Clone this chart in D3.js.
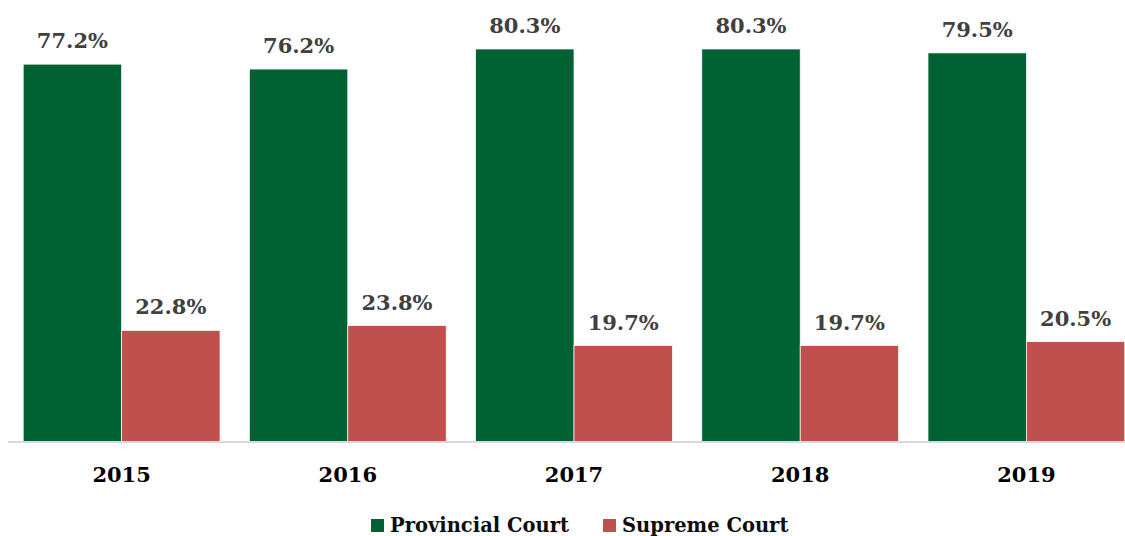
<!DOCTYPE html>
<html><head><meta charset="utf-8">
<script src="https://cdn.jsdelivr.net/npm/d3@7"></script>
<style>body{margin:0;background:#fff}svg{display:block}</style>
</head><body>
<svg id="c" width="1125" height="536"></svg>
<script>
const years = ["2015","2016","2017","2018","2019"];
const seriesNames = ["Provincial Court","Supreme Court"];
const provincial = [77.2,76.2,80.3,80.3,79.5];
const supreme = [22.8,23.8,19.7,19.7,20.5];
const colors = ["#006233","#c0504d"];

const svg = d3.select("#c");
const font = "'DejaVu Serif', serif";
const baseY = 442;
const x0 = d3.scaleBand().domain(years).range([8.5,1139.5]).paddingInner(0.13).paddingOuter(0.065);
const x1 = d3.scaleBand().domain(seriesNames).range([0,x0.bandwidth()]);
const y = d3.scaleLinear().domain([0,80.3]).range([baseY,49]);

const data = years.map((yr,i)=>({yr, vals:[provincial[i],supreme[i]]}));

const g = svg.selectAll("g.grp").data(data).join("g").attr("transform",d=>`translate(${x0(d.yr)},0)`);
g.selectAll("rect").data(d=>d.vals.map((v,j)=>({v,j}))).join("rect")
  .attr("x",d=>x1(seriesNames[d.j])).attr("width",x1.bandwidth())
  .attr("y",d=>y(d.v)).attr("height",d=>baseY-y(d.v))
  .attr("fill",d=>colors[d.j]).attr("stroke","#fff").attr("stroke-width",0.7);
g.selectAll("text").data(d=>d.vals.map((v,j)=>({v,j}))).join("text")
  .attr("x",d=>x1(seriesNames[d.j])+x1.bandwidth()/2).attr("y",d=>y(d.v)-16)
  .attr("text-anchor","middle").attr("font-family",font).attr("font-weight","bold")
  .attr("font-size",21).attr("fill","#404040").text(d=>d.v.toFixed(1)+"%");

// axis
const ax = svg.append("g").attr("transform",`translate(0,${baseY})`)
  .call(d3.axisBottom(x0).tickSize(0).tickPadding(0));
ax.select(".domain").attr("stroke","#d9d9d9").attr("stroke-width",2).attr("d","M8,0H1125");
ax.selectAll("text").attr("font-family",font).attr("font-weight","bold").attr("font-size",21)
  .attr("fill","#000").attr("dy",null).attr("y",40);

// legend
const leg = [{n:seriesNames[0],c:colors[0],x:371},{n:seriesNames[1],c:colors[1],x:603}];
const lg = svg.selectAll("g.leg").data(leg).join("g").attr("transform",d=>`translate(${d.x},519)`);
lg.append("rect").attr("width",13).attr("height",13).attr("fill",d=>d.c);
lg.append("text").attr("x",19).attr("y",13).attr("font-family",font).attr("font-weight","bold")
  .attr("font-size",19.5).attr("fill","#0d0d0d").text(d=>d.n);
</script>
</body></html>
